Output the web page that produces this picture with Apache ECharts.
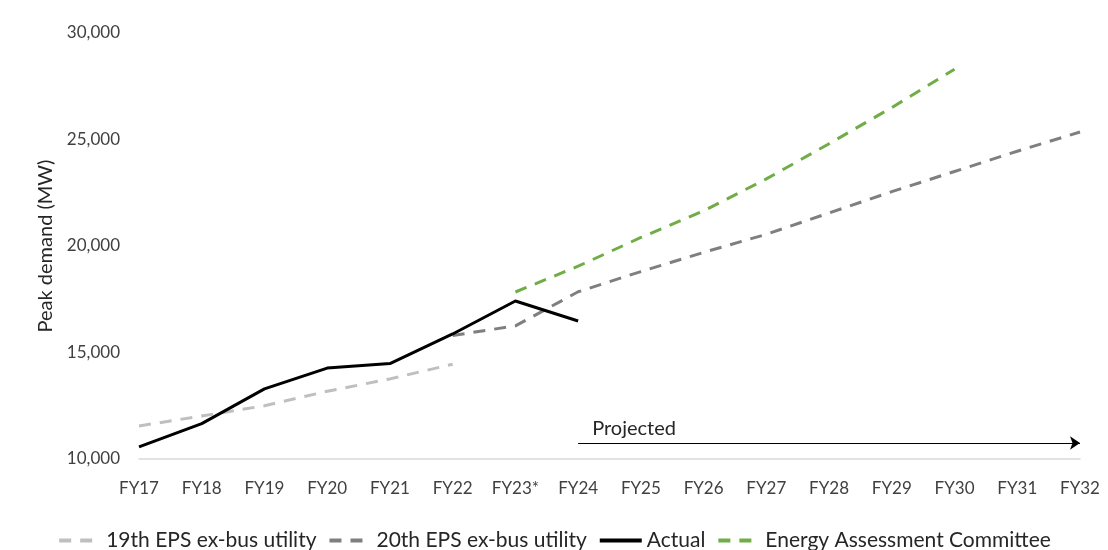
<!DOCTYPE html>
<html>
<head>
<meta charset="utf-8">
<script src="https://cdn.jsdelivr.net/npm/echarts@6/dist/echarts.min.js"></script>
<style>
  html, body { margin: 0; padding: 0; background: #fff; }
  #chart { width: 1108px; height: 550px; }
</style>
</head>
<body>
<div id="chart"></div>
<script>
// Fiscal years on the horizontal axis
const years = ['FY17', 'FY18', 'FY19', 'FY20', 'FY21', 'FY22', 'FY23*', 'FY24',
  'FY25', 'FY26', 'FY27', 'FY28', 'FY29', 'FY30', 'FY31', 'FY32'];

// Peak demand, MW (null where a series has no value)
const eps19 = [11550, 12020, 12500, 13180, 13760, 14450, null, null,
  null, null, null, null, null, null, null, null];
const eps20 = [null, null, null, null, null, 15800, 16250, 17850,
  18800, 19700, 20550, 21550, 22550, 23500, 24450, 25350];
const actual = [10570, 11660, 13290, 14270, 14480, 15870, 17420, 16480,
  null, null, null, null, null, null, null, null];
const eac = [null, null, null, null, null, null, 17840, 19050,
  20400, 21650, 23150, 24800, 26500, 28300, null, null];

// Projection arrow: from the first projected year to the last, just above the axis
const projStart = 'FY24';
const projEnd = 'FY32';
const projLevel = 10750;

const FONT = 'Lato, "Open Sans", sans-serif';
const dash = [12, 9];

function lineSeries(name, data, color, dashed) {
  return {
    name: name,
    type: 'line',
    data: data,
    symbol: 'none',
    connectNulls: false,
    lineStyle: { color: color, width: 3, type: dashed ? dash : 'solid', cap: 'butt', join: 'round' },
    itemStyle: { color: color },
    emphasis: { disabled: true }
  };
}

const chart = echarts.init(document.getElementById('chart'));
const s19 = lineSeries('19th EPS ex-bus utility', eps19, '#BFBFBF', true);
const s20 = lineSeries('20th EPS ex-bus utility', eps20, '#7F7F7F', true);
const sAct = lineSeries('Actual', actual, '#000000', false);
const sEac = lineSeries('Energy Assessment Committee', eac, '#70AD47', true);

sAct.markLine = {
  silent: true,
  symbol: ['none', 'arrow'],
  symbolSize: [10, 10],
  lineStyle: { color: '#000000', width: 1, type: 'solid' },
  label: {
    show: true,
    position: 'insideStartTop',
    formatter: 'Projected',
    color: '#262626',
    fontFamily: FONT,
    fontSize: 20,
    distance: [14, 4]
  },
  data: [[{ coord: [projStart, projLevel] }, { coord: [projEnd, projLevel] }]]
};

chart.setOption({
  animation: false,
  backgroundColor: '#ffffff',
  textStyle: { fontFamily: FONT },
  grid: { left: 139, right: 28, top: 33, bottom: 91, containLabel: false },
  legend: {
    bottom: -6,
    left: 'center',
    itemWidth: 42,
    itemHeight: 14,
    itemGap: 11,
    itemStyle: { opacity: 0 },
    lineStyle: { width: 4 },
    textStyle: { fontFamily: FONT, fontSize: 21, color: '#262626' },
    data: [s19.name, s20.name, sAct.name, sEac.name]
  },
  xAxis: {
    type: 'category',
    data: years,
    boundaryGap: false,
    axisLine: { show: true, lineStyle: { color: '#D9D9D9', width: 1.5 } },
    axisTick: { show: false },
    splitLine: { show: false },
    axisLabel: { color: '#404040', fontFamily: FONT, fontSize: 17, margin: 21, interval: 0 }
  },
  yAxis: {
    type: 'value',
    min: 10000,
    max: 30000,
    interval: 5000,
    name: 'Peak demand (MW)',
    nameLocation: 'middle',
    nameGap: 80,
    nameRotate: 90,
    nameTextStyle: { color: '#262626', fontFamily: FONT, fontSize: 20 },
    axisLine: { show: false },
    axisTick: { show: false },
    splitLine: { show: false },
    axisLabel: {
      color: '#404040', fontFamily: FONT, fontSize: 17, margin: 19,
      formatter: v => v.toLocaleString('en-US')
    }
  },
  series: [s19, s20, sAct, sEac]
});
</script>
</body>
</html>
